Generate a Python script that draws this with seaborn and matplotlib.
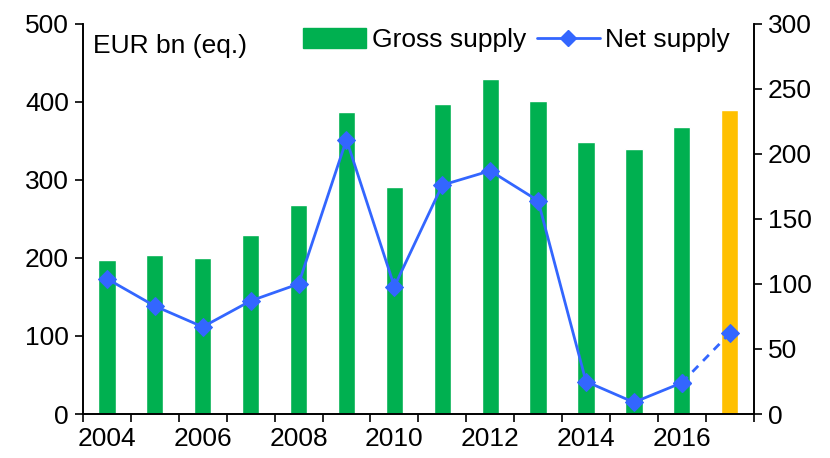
import numpy as np
import pandas as pd
import matplotlib
matplotlib.use("Agg")
import matplotlib.pyplot as plt
from matplotlib.patches import Patch
from matplotlib.lines import Line2D
import seaborn as sns

years = list(range(2004, 2018))
gross = [197, 204, 200, 230, 268, 387, 291, 397, 429, 401, 349, 340, 368, 390]
net = [104, 83, 67, 87, 100, 211, 98, 176, 187, 164, 25, 9, 24, 62]
bar_colors = ["#00B050"] * 13 + ["#FFC000"]
line_color = "#3366FF"

sns.set_style("ticks")
plt.rcParams["font.family"] = ["Liberation Sans", "DejaVu Sans"]
plt.rcParams["font.size"] = 19
plt.rcParams["text.color"] = "black"
plt.rcParams["xtick.color"] = "black"
plt.rcParams["ytick.color"] = "black"
plt.rcParams["axes.labelcolor"] = "black"

df = pd.DataFrame({"year": [str(y) for y in years], "gross": gross, "net": net,
                   "pos": np.arange(len(years))})

fig, ax = plt.subplots(figsize=(8.3, 4.58), dpi=100)
fig.subplots_adjust(left=0.1, right=0.908, top=0.948, bottom=0.096)

sns.barplot(data=df, x="year", y="gross", hue="year", palette=bar_colors,
            legend=False, width=0.36, ax=ax, saturation=1)
ax.set_xlim(-0.5, len(years) - 0.5)
ax.set_ylim(0, 500)
ax.set_yticks(range(0, 501, 100))
ax.set_xlabel("")
ax.set_ylabel("")
ax.set_xticks(np.arange(-0.5, len(years), 1), minor=False)
ax.set_xticklabels([])
ax.set_xticks(np.arange(0, len(years), 2), minor=True)
ax.set_xticklabels([str(y) for y in years[::2]], minor=True)
ax.tick_params(axis="x", which="minor", length=0, pad=9, labelsize=19)
ax.tick_params(axis="x", which="major", length=6, width=1.2)
ax.tick_params(axis="y", length=6, width=1.2, pad=4, labelsize=19)

ax2 = ax.twinx()
solid = df.iloc[:13]
dashed = df.iloc[12:]
sns.lineplot(data=solid, x="pos", y="net", color=line_color, marker="D",
             markersize=9, markeredgecolor=line_color, linewidth=2, ax=ax2)
sns.lineplot(data=dashed, x="pos", y="net", color=line_color, marker="D",
             markersize=9, markeredgecolor=line_color, linewidth=2,
             linestyle=(0, (3, 2.5)), ax=ax2)
ax2.set_ylim(0, 300)
ax2.set_yticks(range(0, 301, 50))
ax2.set_ylabel("")
ax2.set_xlim(-0.5, len(years) - 0.5)
ax2.tick_params(axis="y", length=6, width=1.2, pad=4, labelsize=19)

for a in (ax, ax2):
    a.spines["top"].set_visible(False)
    for s in ("left", "right", "bottom"):
        a.spines[s].set_linewidth(1.2)
        a.spines[s].set_color("black")

handles = [Patch(color="#00B050", label="Gross supply"),
           Line2D([0], [0], color=line_color, marker="D", markersize=8,
                  linewidth=2, label="Net supply")]
ax2.legend(handles=handles, loc="upper right", ncol=2, frameon=False,
           bbox_to_anchor=(1.0, 1.05), handlelength=2.4, handleheight=0.8,
           handletextpad=0.2, columnspacing=0.4, fontsize=19)
ax.text(0.015, 0.975, "EUR bn (eq.)", transform=ax.transAxes, fontsize=19,
        va="top", ha="left")

fig.savefig("out.png", dpi=100)
